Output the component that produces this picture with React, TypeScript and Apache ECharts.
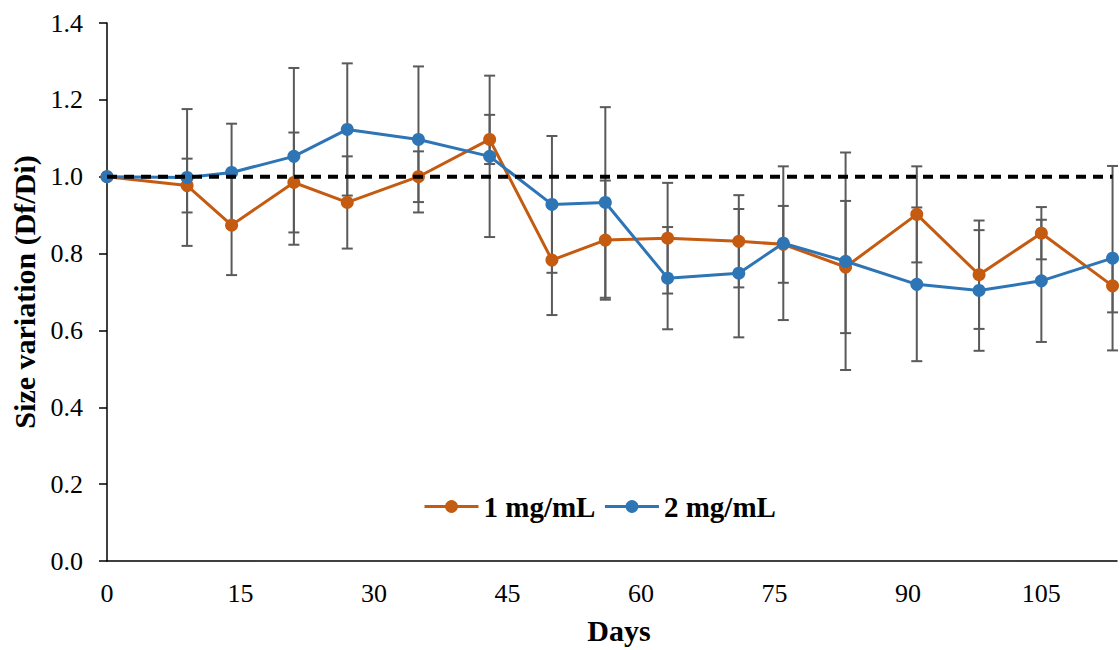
import React, { useEffect, useRef } from "react";
import * as echarts from "echarts";

const days = [0, 9, 14, 21, 27, 35, 43, 50, 56, 63, 71, 76, 83, 91, 98, 105, 113];
const mean1 = [1.0, 0.977, 0.874, 0.985, 0.933, 1.0, 1.097, 0.783, 0.835, 0.84, 0.832, 0.824, 0.765, 0.902, 0.745, 0.853, 0.716];
const err1 = [0, 0.07, 0.13, 0.13, 0.12, 0.066, 0.064, 0.143, 0.155, 0.144, 0.12, 0.1, 0.172, 0.125, 0.141, 0.068, 0.069];
const mean2 = [1.0, 0.998, 1.011, 1.053, 1.123, 1.097, 1.053, 0.928, 0.933, 0.736, 0.749, 0.827, 0.78, 0.72, 0.704, 0.729, 0.788];
const err2 = [0, 0.178, 0.127, 0.23, 0.172, 0.19, 0.21, 0.178, 0.248, 0.133, 0.167, 0.2, 0.283, 0.2, 0.157, 0.159, 0.24];
const seriesNames = ["1 mg/mL", "2 mg/mL"];
const referenceLevel = 1.0;
const xTickStep = 15;

const FONT = '"Liberation Serif", "Times New Roman", serif';
const ORANGE = "#C55A11";
const BLUE = "#2E75B6";
const ERR_COLOR = "#5A5A5A";

function errorSeries(name: string, means: number[], errs: number[]) {
  const data = days
    .map((d, i) => [d, means[i] - errs[i], means[i] + errs[i], errs[i]])
    .filter((r) => r[3] > 0);
  return {
    type: "custom",
    name: name + " err",
    z: 1,
    silent: true,
    renderItem: (params: any, api: any) => {
      const x = api.value(0);
      const lo = api.coord([x, api.value(1)]);
      const hi = api.coord([x, api.value(2)]);
      const half = 5.5;
      const style = { stroke: ERR_COLOR, lineWidth: 2, fill: "none" };
      return {
        type: "group",
        children: [
          { type: "line", shape: { x1: lo[0], y1: lo[1], x2: hi[0], y2: hi[1] }, style },
          { type: "line", shape: { x1: lo[0] - half, y1: lo[1], x2: lo[0] + half, y2: lo[1] }, style },
          { type: "line", shape: { x1: hi[0] - half, y1: hi[1], x2: hi[0] + half, y2: hi[1] }, style },
        ],
      };
    },
    encode: { x: 0, y: [1, 2] },
    data,
  };
}

export default function App() {
  const ref = useRef<HTMLDivElement>(null);
  useEffect(() => {
    if (!ref.current) return;
    const chart = echarts.init(ref.current, undefined, { renderer: "svg" });
    chart.setOption({
      animation: false,
      backgroundColor: "#ffffff",
      textStyle: { fontFamily: FONT, color: "#000" },
      grid: { left: 107, right: 0, top: 23, bottom: 87, containLabel: false },
      legend: {
        data: seriesNames,
        left: 418,
        top: 487,
        itemWidth: 54,
        itemHeight: 16,
        itemGap: 8,
        lineStyle: { width: 3 },
        textStyle: { fontFamily: FONT, fontWeight: "bold", fontSize: 29, color: "#000" },
      },
      xAxis: {
        type: "value",
        min: 0,
        max: 113.5,
        interval: xTickStep,
        name: "Days",
        nameLocation: "middle",
        nameGap: 54,
        nameTextStyle: { fontFamily: FONT, fontWeight: "bold", fontSize: 30, color: "#000", padding: [0, 0, 0, 14] },
        axisLine: { show: true, lineStyle: { color: "#000", width: 1.5 } },
        axisTick: { show: false },
        splitLine: { show: false },
        axisLabel: {
          fontFamily: FONT,
          fontSize: 26,
          color: "#000",
          margin: 19,
          formatter: (v: number) => (Math.abs(v % xTickStep) < 1e-9 ? String(v) : ""),
        },
      },
      yAxis: {
        type: "value",
        min: 0,
        max: 1.4,
        interval: 0.2,
        name: "Size variation (Df/Di)",
        nameLocation: "middle",
        nameRotate: 90,
        nameGap: 67,
        nameTextStyle: { fontFamily: FONT, fontWeight: "bold", fontSize: 30, color: "#000" },
        axisLine: { show: true, lineStyle: { color: "#000", width: 1.5 } },
        axisTick: { show: true, inside: false, length: 8, lineStyle: { color: "#000", width: 1.5 } },
        splitLine: { show: false },
        axisLabel: {
          fontFamily: FONT,
          fontSize: 26,
          color: "#000",
          margin: 24,
          formatter: (v: number) => v.toFixed(1),
        },
      },
      series: [
        errorSeries(seriesNames[0], mean1, err1),
        errorSeries(seriesNames[1], mean2, err2),
        {
          type: "line",
          name: seriesNames[0],
          z: 3,
          data: days.map((d, i) => [d, mean1[i]]),
          symbol: "circle",
          symbolSize: 13,
          lineStyle: { color: ORANGE, width: 3 },
          itemStyle: { color: ORANGE },
        },
        {
          type: "line",
          name: seriesNames[1],
          z: 4,
          data: days.map((d, i) => [d, mean2[i]]),
          symbol: "circle",
          symbolSize: 13,
          lineStyle: { color: BLUE, width: 3 },
          itemStyle: { color: BLUE },
        },
        {
          type: "line",
          name: "reference",
          z: 5,
          silent: true,
          symbol: "none",
          data: [
            [days[0], referenceLevel],
            [days[days.length - 1], referenceLevel],
          ],
          lineStyle: { color: "#000", width: 4, type: [10, 7] },
        },
      ],
    });
    return () => chart.dispose();
  }, []);
  return (
    <div
      ref={ref}
      style={{ position: "fixed", left: 0, top: 0, width: 1120, height: 650, background: "#fff" }}
    />
  );
}
